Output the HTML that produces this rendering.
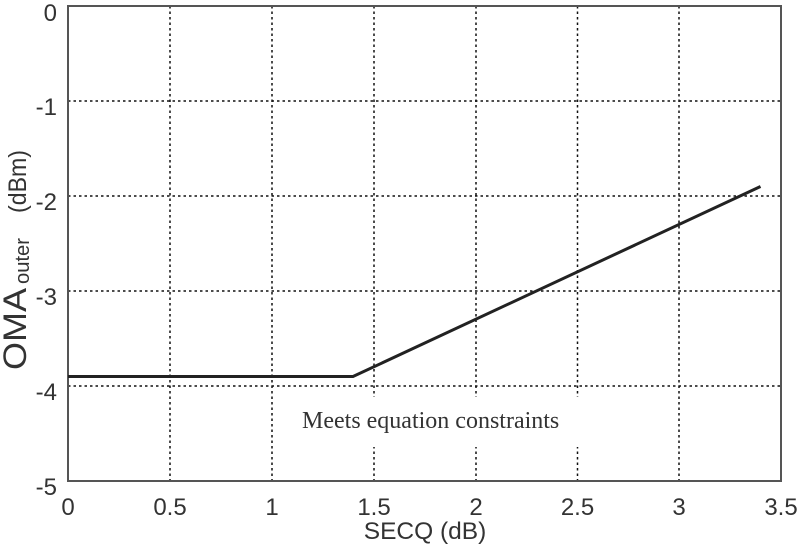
<!DOCTYPE html>
<html>
<head>
<meta charset="utf-8">
<style>
html,body{margin:0;padding:0;background:#fff;}
svg{display:block;}
</style>
</head>
<body>
<svg width="800" height="549" viewBox="0 0 800 549" xmlns="http://www.w3.org/2000/svg">
  <rect x="0" y="0" width="800" height="549" fill="#fff"/>
  <!-- grid -->
  <g stroke="#111" stroke-width="1.5" stroke-dasharray="2.5,3" fill="none">
    <line x1="170" y1="6" x2="170" y2="481"/>
    <line x1="272" y1="6" x2="272" y2="481"/>
    <line x1="374" y1="6" x2="374" y2="481"/>
    <line x1="476" y1="6" x2="476" y2="481"/>
    <line x1="577.5" y1="6" x2="577.5" y2="481"/>
    <line x1="679" y1="6" x2="679" y2="481"/>
    <line x1="68" y1="101" x2="781" y2="101"/>
    <line x1="68" y1="196" x2="781" y2="196"/>
    <line x1="68" y1="291" x2="781" y2="291"/>
    <line x1="68" y1="386" x2="781" y2="386"/>
  </g>
  <!-- annotation box -->
  <rect x="296" y="397" width="290" height="50" fill="#fff"/>
  <text x="302" y="428" font-family="Liberation Serif, serif" font-size="24" fill="#333">Meets equation constraints</text>
  <!-- axes box -->
  <rect x="68" y="6" width="713" height="475" fill="none" stroke="#555" stroke-width="2"/>
  <!-- data line -->
  <polyline points="68,376.5 353,376.5 760.5,186.5" fill="none" stroke="#222" stroke-width="3"/>
  <!-- y tick labels -->
  <g font-family="Liberation Sans, sans-serif" font-size="24" fill="#333" text-anchor="end">
    <text x="57" y="21">0</text>
    <text x="57" y="115">-1</text>
    <text x="57" y="210">-2</text>
    <text x="57" y="305">-3</text>
    <text x="57" y="400">-4</text>
    <text x="57" y="495">-5</text>
  </g>
  <!-- x tick labels -->
  <g font-family="Liberation Sans, sans-serif" font-size="24" fill="#333" text-anchor="middle">
    <text x="68" y="515">0</text>
    <text x="170" y="515">0.5</text>
    <text x="272" y="515">1</text>
    <text x="374" y="515">1.5</text>
    <text x="476" y="515">2</text>
    <text x="577.5" y="515">2.5</text>
    <text x="679" y="515">3</text>
    <text x="781" y="515">3.5</text>
  </g>
  <!-- x label -->
  <text x="425" y="539" font-family="Liberation Sans, sans-serif" font-size="24.5" fill="#333" text-anchor="middle">SECQ (dB)</text>
  <!-- y label -->
  <g font-family="Liberation Sans, sans-serif" fill="#333">
    <text transform="translate(26,370) rotate(-90)" font-size="32" textLength="82" lengthAdjust="spacingAndGlyphs">OMA</text>
    <text transform="translate(29,284) rotate(-90)" font-size="20" textLength="46" lengthAdjust="spacingAndGlyphs">outer</text>
    <text transform="translate(26,213) rotate(-90)" font-size="25" textLength="63" lengthAdjust="spacingAndGlyphs">(dBm)</text>
  </g>
</svg>
</body>
</html>
